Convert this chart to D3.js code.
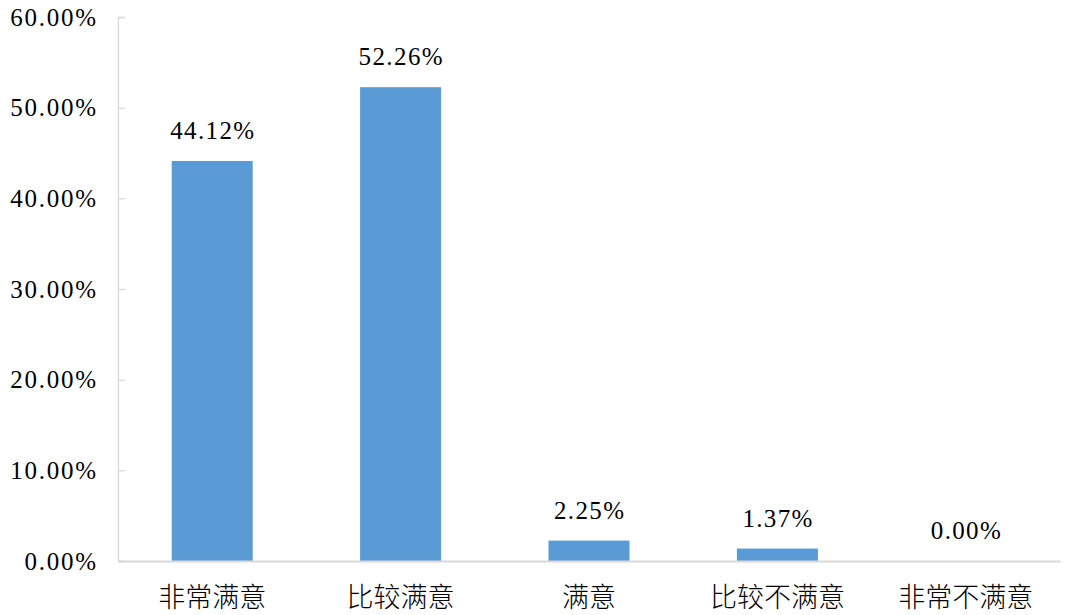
<!DOCTYPE html>
<html><head><meta charset="utf-8">
<script src="https://cdn.jsdelivr.net/npm/d3@7"></script>
<style>
html,body{margin:0;padding:0;background:#fff;}
svg{display:block;}
</style>
</head><body>
<svg id="chart" width="1072" height="615"></svg>
<script>
const categories = ["非常满意", "比较满意", "满意", "比较不满意", "非常不满意"];
const values = [44.12, 52.26, 2.25, 1.37, 0.00];
const yTicks = [0, 10, 20, 30, 40, 50, 60];

const svg = d3.select("#chart");
const mLeft = 118, mRight = 1060, mTop = 17, mBottom = 561;
const numFont = "'Liberation Serif', 'DejaVu Serif', serif";
const cjkFont = "'Noto Sans CJK SC', sans-serif";
const charW = 14.3;

const x = d3.scaleBand().domain(categories).range([mLeft, mRight]).paddingInner(0.57).paddingOuter(0.285);
const y = d3.scaleLinear().domain([0, 60]).range([mBottom, mTop]);
const fmt = v => d3.format(".2f")(v) + "%";

// y axis
const yAxis = svg.append("g").attr("transform", `translate(${mLeft},0)`)
  .call(d3.axisRight(y).tickValues(yTicks).tickSize(7).tickFormat(""));
yAxis.select(".domain").attr("stroke", "#d9d9d9").attr("stroke-width", 1.3);
yAxis.selectAll(".tick line").attr("stroke", "#d9d9d9").attr("stroke-width", 1.3);

svg.append("g").selectAll("text").data(yTicks).join("text")
  .attr("x", 96).attr("y", d => y(d)).attr("dy", "0.34em")
  .attr("text-anchor", "end")
  .attr("font-family", numFont).attr("font-size", 25).attr("fill", "#000")
  .attr("textLength", d => fmt(d).length * charW).attr("lengthAdjust", "spacing")
  .text(d => fmt(d));

// bars
svg.append("g").selectAll("rect").data(values).join("rect")
  .attr("x", (d, i) => x(categories[i]))
  .attr("width", x.bandwidth())
  .attr("y", d => y(d))
  .attr("height", d => y(0) - y(d))
  .attr("fill", "#5b9bd5");

// x axis
const xAxis = svg.append("g").attr("transform", `translate(0,${mBottom})`)
  .call(d3.axisBottom(x).tickSize(0).tickFormat(""));
xAxis.select(".domain").attr("stroke", "#d9d9d9").attr("stroke-width", 2);

svg.append("g").selectAll("text").data(categories).join("text")
  .attr("x", d => x(d) + x.bandwidth() / 2).attr("y", 607)
  .attr("text-anchor", "middle")
  .attr("font-family", cjkFont).attr("font-size", 27).attr("font-weight", 300).attr("fill", "#000")
  .text(d => d);

// value labels
svg.append("g").selectAll("text").data(values).join("text")
  .attr("x", (d, i) => x(categories[i]) + x.bandwidth() / 2)
  .attr("y", d => y(d) - 22)
  .attr("text-anchor", "middle")
  .attr("font-family", numFont).attr("font-size", 25).attr("fill", "#000")
  .attr("textLength", d => fmt(d).length * 14)
  .attr("lengthAdjust", "spacing")
  .text(d => fmt(d));
</script>
</body></html>
